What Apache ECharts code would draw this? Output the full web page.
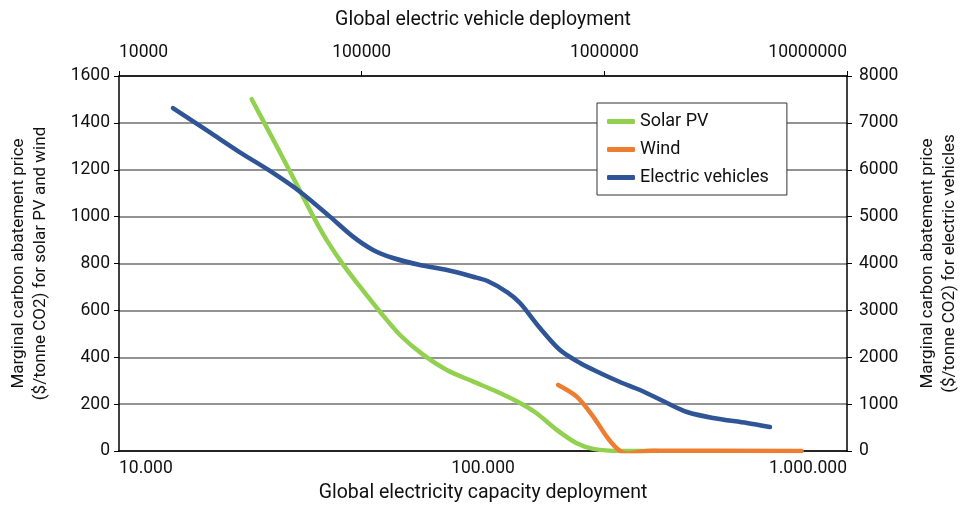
<!DOCTYPE html>
<html>
<head>
<meta charset="utf-8">
<script src="https://cdn.jsdelivr.net/npm/echarts@6/dist/echarts.min.js"></script>
<style>
html,body{margin:0;padding:0;background:#fff;}
#chart{width:965px;height:505px;}
</style>
</head>
<body>
<div id="chart"></div>
<script>
// Solar PV (bottom axis: global electricity capacity deployment; left axis)
var solarX = [23150, 27120, 31430, 34190, 37200, 41330, 45930, 52120, 59150, 68550, 79500, 94060, 106700, 126400, 140400, 159400, 180900, 201000, 237800, 270000, 300000];
var solarY = [1501, 1300, 1110, 1000, 900, 794, 701, 594, 495, 410, 346, 296, 260, 205, 161, 90, 33, 9, 0, 0, 0];
// Wind (bottom axis; left axis)
var windX = [160900, 180900, 201000, 218700, 232900, 248200, 270000, 293800, 750700];
var windY = [282, 232, 146, 61, 12, -12, -3, 1, 0];
// Electric vehicles (top axis: global EV deployment; right axis)
var evX = [16690, 23700, 31500, 41900, 55700, 74000, 92100, 111400, 134600, 174000, 224700, 287500, 330000, 400000, 449200, 543000, 656700, 793900, 959600, 1160000, 1403000, 1813000, 2191000, 2804000, 3871000, 4815000];
var evY = [7317, 6795, 6370, 5974, 5532, 5000, 4573, 4288, 4117, 3968, 3861, 3718, 3626, 3381, 3157, 2624, 2154, 1877, 1664, 1472, 1301, 1024, 832, 704, 597, 512];
// Tick settings
var leftTicks = {min: 0, max: 1600, interval: 200};
var rightTicks = {min: 0, max: 8000, interval: 1000};
var bottomRange = {min: 10000, max: 1000000};
var topRange = {min: 10000, max: 10000000};

function pairs(xs, ys) { return xs.map(function (x, i) { return [x, ys[i]]; }); }
function isPow10(v) { var l = Math.log10(v); return Math.abs(l - Math.round(l)) < 1e-6; }
function dotSep(v) { return String(Math.round(v)).replace(/\B(?=(\d{3})+(?!\d))/g, '.'); }

var FONT = 'Roboto';
var txt = '#111';
var chart = echarts.init(document.getElementById('chart'), null, {renderer: 'canvas'});
chart.setOption({
  animation: false,
  backgroundColor: '#fff',
  textStyle: {fontFamily: FONT},
  grid: {left: 119, right: 118, top: 76, bottom: 54, containLabel: false, outerBoundsMode: 'none'},
  legend: {
    orient: 'vertical',
    left: 597, top: 103,
    padding: [8, 18, 7, 10],
    itemGap: 7,
    itemWidth: 28, itemHeight: 5,
    icon: 'roundRect',
    backgroundColor: '#fff',
    borderColor: '#333', borderWidth: 1,
    textStyle: {fontFamily: FONT, fontSize: 18, color: txt, lineHeight: 21},
    data: ['Solar PV', 'Wind', 'Electric vehicles']
  },
  xAxis: [
    {
      type: 'log', logBase: 10, position: 'bottom',
      min: bottomRange.min, max: bottomRange.max,
      name: 'Global electricity capacity deployment',
      nameLocation: 'middle', nameGap: 31,
      nameTextStyle: {fontFamily: FONT, fontSize: 19.5, color: txt},
      axisLine: {show: true, onZero: false, lineStyle: {color: '#000', width: 1.5}},
      axisTick: {show: false},
      splitLine: {show: false},
      minorTick: {show: false}, minorSplitLine: {show: false},
      axisLabel: {
        fontFamily: FONT, fontSize: 17.5, color: txt, margin: 9,
        alignMinLabel: 'left', alignMaxLabel: 'right',
        formatter: function (v) { return isPow10(v) ? dotSep(v) : ''; }
      }
    },
    {
      type: 'log', logBase: 10, position: 'top',
      min: topRange.min, max: topRange.max,
      name: 'Global electric vehicle deployment',
      nameLocation: 'middle', nameGap: 46,
      nameTextStyle: {fontFamily: FONT, fontSize: 19.5, color: txt},
      axisLine: {show: true, onZero: false, lineStyle: {color: '#000', width: 1.5}},
      axisTick: {show: true, inside: false, length: 5, lineStyle: {color: '#000', width: 1}},
      splitLine: {show: false},
      axisLabel: {
        fontFamily: FONT, fontSize: 17.5, color: txt, margin: 14,
        alignMinLabel: 'left', alignMaxLabel: 'right',
        formatter: function (v) { return isPow10(v) ? String(Math.round(v)) : ''; }
      }
    }
  ],
  yAxis: [
    {
      type: 'value', position: 'left',
      min: leftTicks.min, max: leftTicks.max, interval: leftTicks.interval,
      name: 'Marginal carbon abatement price\n($/tonne CO2) for solar PV and wind',
      nameLocation: 'middle', nameRotate: 90, nameGap: 67,
      nameTextStyle: {fontFamily: FONT, fontSize: 17, color: txt, lineHeight: 22},
      axisLine: {show: true, onZero: false, lineStyle: {color: '#000', width: 1.5}},
      axisTick: {show: true, inside: false, length: 5, lineStyle: {color: '#000', width: 1}},
      splitLine: {show: true, lineStyle: {color: '#6f6f6f', width: 1.5}},
      axisLabel: {fontFamily: FONT, fontSize: 17.5, color: txt, margin: 9,
        formatter: function (v) { return String(v); }}
    },
    {
      type: 'value', position: 'right',
      min: rightTicks.min, max: rightTicks.max, interval: rightTicks.interval,
      name: 'Marginal carbon abatement price\n($/tonne CO2) for electric vehicles',
      nameLocation: 'middle', nameRotate: 90, nameGap: 70,
      nameTextStyle: {fontFamily: FONT, fontSize: 17, color: txt, lineHeight: 22},
      axisLine: {show: true, onZero: false, lineStyle: {color: '#000', width: 1.5}},
      axisTick: {show: true, inside: false, length: 5, lineStyle: {color: '#000', width: 1}},
      splitLine: {show: false},
      axisLabel: {fontFamily: FONT, fontSize: 17.5, color: txt, margin: 12,
        formatter: function (v) { return String(v); }}
    }
  ],
  series: [
    {
      name: 'Solar PV', type: 'line', xAxisIndex: 0, yAxisIndex: 0,
      data: pairs(solarX, solarY), smooth: 0.3, showSymbol: false, symbol: 'none',
      color: '#92D050',
      lineStyle: {color: '#92D050', width: 4.5, cap: 'round', join: 'round'}
    },
    {
      name: 'Wind', type: 'line', xAxisIndex: 0, yAxisIndex: 0,
      data: pairs(windX, windY), smooth: 0.3, showSymbol: false, symbol: 'none',
      color: '#ED7D31',
      lineStyle: {color: '#ED7D31', width: 4.5, cap: 'round', join: 'round'}
    },
    {
      name: 'Electric vehicles', type: 'line', xAxisIndex: 1, yAxisIndex: 1,
      data: pairs(evX, evY), smooth: 0.3, showSymbol: false, symbol: 'none',
      color: '#2F5597',
      lineStyle: {color: '#2F5597', width: 4.5, cap: 'round', join: 'round'}
    }
  ]
});
</script>
</body>
</html>
